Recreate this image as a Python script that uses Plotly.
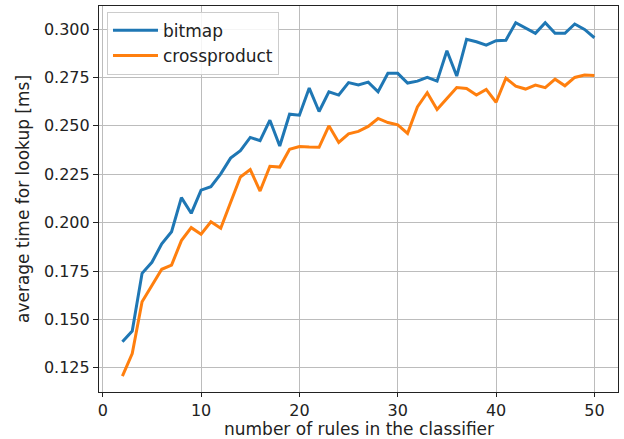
import plotly.graph_objects as go

rules = list(range(2, 51))

bitmap = [0.1384, 0.1440, 0.1738, 0.1795, 0.1890, 0.1953, 0.2129, 0.2048, 0.2168,
          0.2186, 0.2252, 0.2333, 0.2372, 0.2440, 0.2423, 0.2529, 0.2396, 0.2560,
          0.2555, 0.2695, 0.2574, 0.2676, 0.2659, 0.2723, 0.2711, 0.2726, 0.2676,
          0.2771, 0.2771, 0.2721, 0.2731, 0.2750, 0.2731, 0.2888, 0.2757, 0.2947,
          0.2934, 0.2917, 0.2940, 0.2942, 0.3033, 0.3007, 0.2978, 0.3033, 0.2978,
          0.2978, 0.3026, 0.2998, 0.2955]

crossproduct = [0.1207, 0.1324, 0.1591, 0.1678, 0.1759, 0.1781, 0.1907, 0.1974, 0.1940,
                0.2004, 0.1971, 0.2104, 0.2236, 0.2274, 0.2163, 0.2291, 0.2287, 0.2379,
                0.2393, 0.2390, 0.2389, 0.2500, 0.2414, 0.2459, 0.2471, 0.2497, 0.2538,
                0.2517, 0.2505, 0.2461, 0.2598, 0.2671, 0.2584, 0.2641, 0.2698, 0.2693,
                0.2659, 0.2688, 0.2622, 0.2746, 0.2705, 0.2690, 0.2710, 0.2697, 0.2741,
                0.2707, 0.2750, 0.2762, 0.2760]

x_ticks = [0, 10, 20, 30, 40, 50]
y_ticks = [0.125, 0.150, 0.175, 0.200, 0.225, 0.250, 0.275, 0.300]

x_title = "number of rules in the classifier"
y_title = "average time for lookup [ms]"

FONT = "DejaVu Sans"

fig = go.Figure()
fig.add_trace(go.Scatter(x=rules, y=bitmap, mode="lines", name="bitmap",
                         line=dict(color="#1f77b4", width=3)))
fig.add_trace(go.Scatter(x=rules, y=crossproduct, mode="lines", name="crossproduct",
                         line=dict(color="#ff7f0e", width=3)))

axis_common = dict(
    automargin=False,
    showline=True, mirror=True, linecolor="#222222", linewidth=1.2,
    showgrid=True, gridcolor="#bcbcbc", gridwidth=1.2,
    zeroline=False, ticks="outside", tickwidth=1.2, tickcolor="#222222",
    tickfont=dict(family=FONT, size=16, color="#222222"),
)

fig.update_layout(
    template="none",
    width=624, height=439,
    margin=dict(l=99, r=6, t=6, b=47, pad=0),
    paper_bgcolor="white", plot_bgcolor="white",
    font=dict(family=FONT, size=17, color="#222222"),
    showlegend=True,
    legend=dict(x=0.0154, y=0.985, xanchor="left", yanchor="top",
                bgcolor="rgba(255,255,255,0.85)", bordercolor="#cccccc", borderwidth=1,
                font=dict(family=FONT, size=17, color="#222222"),
                itemwidth=45, tracegroupgap=0),
    xaxis=dict(range=[-0.38, 52.4], tickvals=x_ticks, ticklen=4, **axis_common),
    yaxis=dict(range=[0.1125, 0.3119], tickvals=y_ticks, tickformat=".3f", ticklen=5,
               title=dict(text=y_title, font=dict(family=FONT, size=17), standoff=9),
               **axis_common),
    annotations=[dict(text=x_title, xref="paper", yref="paper", x=0.5, y=-0.0675,
                      xanchor="center", yanchor="top", showarrow=False, borderpad=0,
                      font=dict(family=FONT, size=17, color="#222222"))],
)

fig.write_html("out.html",
               config={"displayModeBar": False},
               post_script="document.body.style.margin='0';document.body.style.padding='0';")
